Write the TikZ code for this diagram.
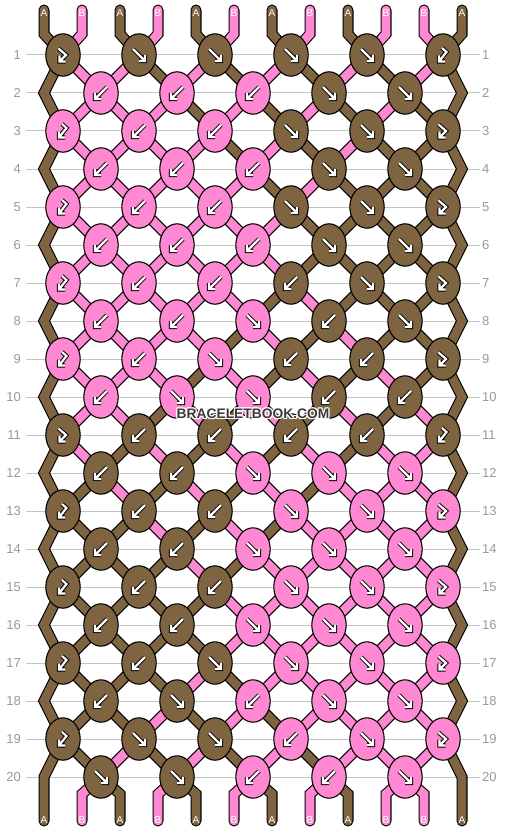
\documentclass[tikz,border=0pt]{standalone}
\usepackage{fontspec}
\setmainfont{Liberation Sans}
\usetikzlibrary{shapes.geometric}
\definecolor{cola}{HTML}{7F6442}
\definecolor{colb}{HTML}{FF88D2}
\definecolor{rowgray}{HTML}{9A9A9A}
\definecolor{linegray}{HTML}{C4C4C4}
\definecolor{wmdark}{HTML}{3A3A3A}
\pgfdeclarelayer{paper}
\pgfdeclarelayer{grid}
\pgfdeclarelayer{thr}
\pgfsetlayers{paper,grid,thr,main}

\def\glyphF{(-6,-6)--(6,6) (6,0)--(6,6)--(0,6)}
\def\glyphB{(6,-6)--(-6,6) (-6,0)--(-6,6)--(0,6)}
\def\glyphX{(-4.5,-6.5)--(3,0)--(-3.5,6.5) (-3.5,0.5)--(-3.5,6.5)--(2.5,6.5)}
\def\glyphY{(-1,-7)--(3.5,-3)--(-4,6.5) (-4,0.5)--(-4,6.5)--(2,6.5)}

\tikzset{
 thread/.style={draw=black,line width=1.1pt,double=#1,double distance=8.8pt,line cap=round,line join=miter},
 knot/.style={ellipse,draw=black,line width=1.1pt,fill=#1,minimum width=34.4pt,minimum height=42.4pt,inner sep=0pt},
 arrout/.style={draw=black,line width=4.2pt,line cap=square,line join=miter},
 arrin/.style={draw=white,line width=2.2pt,line cap=butt,line join=miter},
 rownum/.style={text=rowgray,font=\fontsize{13}{13}\selectfont,inner sep=0pt},
 lab/.style={text=white,font=\fontsize{10}{10}\selectfont,inner sep=0pt},
 rowline/.style={draw=linegray,line width=1pt},
 wm/.style={font=\bfseries\fontsize{13.8}{14}\selectfont,inner sep=0pt},
}

\newcommand\knotrow[2]{%
  \pgfmathsetmacro\ky{55+38*(#1-1)}%
  \pgfmathtruncatemacro\kodd{mod(#1,2)}%
  \foreach \kt/\cc [count=\j] in {#2}{%
    \pgfmathsetmacro\kx{\kodd==1 ? 63+76*(\j-1) : 101+76*(\j-1)}%
    \node[knot=col\cc] (K-#1-\j) at (\kx,\ky) {};
    \expandafter\let\expandafter\gl\csname glyph\kt\endcsname
    \draw[arrout,shift={(K-#1-\j.center)}] \gl;
    \draw[arrin,shift={(K-#1-\j.center)}] \gl;
  }}

\newcommand\segrow[2]{%
  \pgfmathtruncatemacro\rn{#1+1}%
  \foreach \cc [count=\i from 2] in {#2}{%
    \draw[thread=col\cc] (P-#1-\i) -- (P-\rn-\i);
  }}

\begin{document}
\begin{tikzpicture}[x=1pt,y=-1pt]
\begin{pgfonlayer}{paper}
\fill[white] (0,0) rectangle (506,832);
\end{pgfonlayer}
\useasboundingbox (0,0) rectangle (506,832);

% knots
\knotrow{1}{X/a,F/a,F/a,F/a,F/a,Y/a}
\knotrow{2}{B/b,B/b,B/b,F/a,F/a}
\knotrow{3}{Y/b,B/b,B/b,F/a,F/a,X/a}
\knotrow{4}{B/b,B/b,B/b,F/a,F/a}
\knotrow{5}{Y/b,B/b,B/b,F/a,F/a,X/a}
\knotrow{6}{B/b,B/b,B/b,F/a,F/a}
\knotrow{7}{Y/b,B/b,B/b,B/a,F/a,X/a}
\knotrow{8}{B/b,B/b,F/b,B/a,F/a}
\knotrow{9}{Y/b,B/b,F/b,B/a,B/a,X/a}
\knotrow{10}{B/b,F/b,F/b,B/a,B/a}
\knotrow{11}{X/a,B/a,B/a,B/a,B/a,Y/a}
\knotrow{12}{B/a,B/a,F/b,F/b,F/b}
\knotrow{13}{Y/a,B/a,B/a,F/b,F/b,X/b}
\knotrow{14}{B/a,B/a,F/b,F/b,F/b}
\knotrow{15}{Y/a,B/a,B/a,F/b,F/b,X/b}
\knotrow{16}{B/a,B/a,F/b,F/b,F/b}
\knotrow{17}{Y/a,B/a,F/a,F/b,F/b,X/b}
\knotrow{18}{B/a,F/a,B/b,F/b,F/b}
\knotrow{19}{Y/a,F/a,F/a,B/b,F/b,X/b}
\knotrow{20}{F/a,F/a,B/b,B/b,F/b}

% thread position coordinates
\foreach \r in {1,...,20}{
  \pgfmathtruncatemacro\kodd{mod(\r,2)}
  \pgfmathsetmacro\ky{55+38*(\r-1)}
  \foreach \i in {1,...,12}{
    \ifnum\kodd=1
      \pgfmathtruncatemacro\jj{(\i+1)/2}
      \coordinate (P-\r-\i) at (K-\r-\jj.center);
    \else
      \ifnum\i=1 \coordinate (P-\r-\i) at (44,\ky);
      \else\ifnum\i=12 \coordinate (P-\r-\i) at (462,\ky);
      \else \pgfmathtruncatemacro\jj{\i/2}\coordinate (P-\r-\i) at (K-\r-\jj.center);
      \fi\fi
    \fi
  }
}

% ends and labels
\foreach \l [count=\i] in {A,B,A,B,A,B,A,B,A,B,B,A}{
  \pgfmathsetmacro\tx{44+38*(\i-1)}
  \coordinate (U-\i) at (\tx,10);
  \coordinate (T-\i) at (\tx,34);
  \coordinate (B-\i) at (\tx,794);
  \coordinate (D-\i) at (\tx,821);
  \node[lab] (LT-\i) at (\tx,13) {\l};
  \node[lab] (LB-\i) at (\tx,820) {\l};
}

% row numbers and lines
\foreach \r in {1,...,20}{
  \pgfmathsetmacro\ky{55+38*(\r-1)}
  \node[rownum,anchor=east] (RL-\r) at (21,\ky) {\r};
  \node[rownum,anchor=west] (RR-\r) at (482,\ky) {\r};
  \begin{pgfonlayer}{grid}
  \draw[rowline,shorten <=5pt,shorten >=2pt] (RL-\r.east) -- (RR-\r.west);
  \end{pgfonlayer}
}

\begin{pgfonlayer}{thr}
% edge threads
\draw[thread=cola] (U-1) -- (T-1) \foreach \r in {1,...,20}{ -- (P-\r-1)} -- (B-1) -- (D-1);
\draw[thread=cola] (U-12) -- (T-12) \foreach \r in {1,...,20}{ -- (P-\r-12)} -- (B-12) -- (D-12);
% top
\foreach \cc [count=\i from 2] in {b,a,b,a,b,a,b,a,b,b}{
  \draw[thread=col\cc] (U-\i) -- (T-\i) -- (P-1-\i);
}
\segrow{1}{b,b,a,b,a,b,a,b,a,b}
\segrow{2}{b,b,b,a,b,a,b,a,b,a}
\segrow{3}{b,b,b,b,a,b,a,b,a,a}
\segrow{4}{b,b,b,b,b,a,b,a,a,a}
\segrow{5}{b,b,b,b,b,b,a,a,a,a}
\segrow{6}{b,b,b,b,b,b,a,a,a,a}
\segrow{7}{b,b,b,b,b,a,b,a,a,a}
\segrow{8}{b,b,b,b,a,b,a,b,a,a}
\segrow{9}{b,b,b,a,b,a,b,a,b,a}
\segrow{10}{b,b,a,b,a,b,a,b,a,b}
\segrow{11}{b,a,b,a,b,a,b,a,b,b}
\segrow{12}{a,b,a,b,a,b,a,b,b,b}
\segrow{13}{a,a,b,a,b,a,b,b,b,b}
\segrow{14}{a,a,a,b,a,b,b,b,b,b}
\segrow{15}{a,a,a,a,b,b,b,b,b,b}
\segrow{16}{a,a,a,a,b,b,b,b,b,b}
\segrow{17}{a,a,a,b,a,b,b,b,b,b}
\segrow{18}{a,a,b,a,b,a,b,b,b,b}
\segrow{19}{a,b,a,b,a,b,a,b,b,b}
% bottom
\foreach \cc [count=\i from 2] in {b,a,b,a,b,a,b,a,b,b}{
  \draw[thread=col\cc] (P-20-\i) -- (B-\i) -- (D-\i);
}
\end{pgfonlayer}

% watermark
\foreach \dx/\dy [count=\h] in {-1/0,1/0,0/-1,0/1,-1/-1,1/1,-1/1,1/-1}{
  \node[wm,text=white] (WH-\h) at ({253+(\dx)},{414+(\dy)}) {BRACELETBOOK.COM};
}
\node[wm,text=wmdark] (WM) at (253,414) {BRACELETBOOK.COM};
\end{tikzpicture}
\end{document}
